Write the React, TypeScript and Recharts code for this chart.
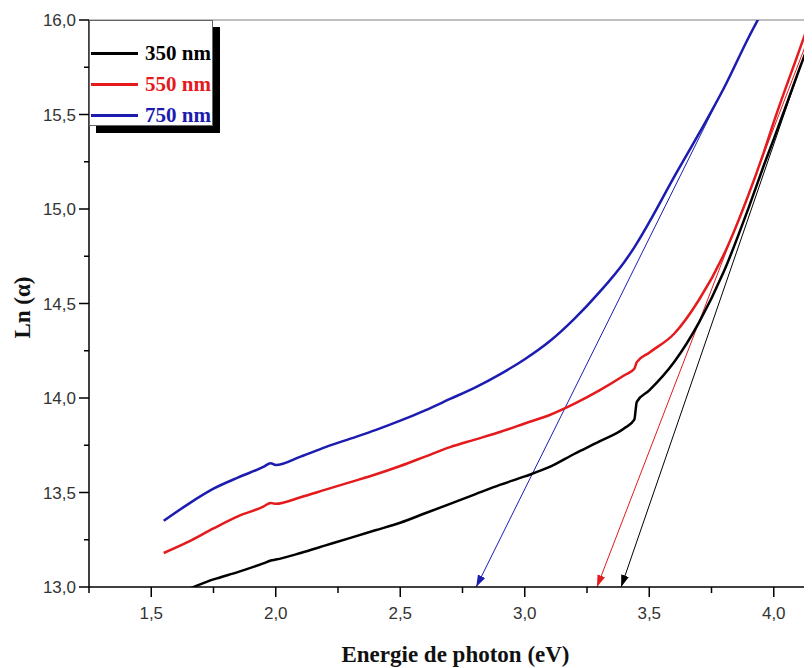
import React from 'react';
import { LineChart, Line, XAxis, YAxis, ReferenceLine, Label } from 'recharts';

// ---- data ----
const ENERGY = [1.55, 1.65, 1.75, 1.85, 1.95, 1.98, 2.0, 2.1, 2.2, 2.3, 2.4, 2.5, 2.6, 2.7, 2.8, 2.9, 3.0, 3.1, 3.2, 3.3, 3.4, 3.44, 3.45, 3.5, 3.6, 3.7, 3.8, 3.9, 3.96, 4.0, 4.1, 4.2];
const LN_350 = [12.94, 12.99, 13.04, 13.08, 13.125, 13.14, 13.145, 13.18, 13.22, 13.26, 13.3, 13.34, 13.39, 13.44, 13.49, 13.54, 13.585, 13.635, 13.705, 13.77, 13.84, 13.885, 13.98, 14.04, 14.19, 14.4, 14.67, 15.01, 15.23, 15.37, 15.73, 16.08];
const LN_550 = [13.18, 13.24, 13.31, 13.375, 13.425, 13.445, 13.44, 13.475, 13.515, 13.555, 13.595, 13.64, 13.69, 13.74, 13.78, 13.82, 13.865, 13.91, 13.97, 14.04, 14.12, 14.155, 14.19, 14.24, 14.34, 14.52, 14.76, 15.08, 15.3, 15.46, 15.83, 16.2];
const LN_750 = [13.35, 13.44, 13.52, 13.58, 13.635, 13.655, 13.645, 13.69, 13.74, 13.785, 13.83, 13.88, 13.935, 13.995, 14.055, 14.125, 14.205, 14.3, 14.42, 14.56, 14.72, 14.797, 14.818, 14.93, 15.17, 15.4, 15.64, 15.91, 16.06, null, null, null];

const SERIES_NAMES = ['350 nm', '550 nm', '750 nm'];
const SERIES_KEYS = ['s350', 's550', 's750'];
const SERIES_COLORS = ['#000000', '#e41a1c', '#1c1cb0'];

// tangent (extrapolation) lines: start at top, end (arrow) on the energy axis
const TANGENT_350 = [{ e: 4.172, v: 16.0 }, { e: 3.387, v: 13.0 }];
const TANGENT_550 = [{ e: 4.167, v: 16.0 }, { e: 3.29, v: 13.0 }];
const TANGENT_750 = [{ e: 3.935, v: 16.0 }, { e: 2.805, v: 13.0 }];
const TANGENTS = [TANGENT_350, TANGENT_550, TANGENT_750];

const X_TICKS = [1.25, 1.5, 1.75, 2.0, 2.25, 2.5, 2.75, 3.0, 3.25, 3.5, 3.75, 4.0, 4.25];
const Y_TICKS = [13.0, 13.25, 13.5, 13.75, 14.0, 14.25, 14.5, 14.75, 15.0, 15.25, 15.5, 15.75, 16.0];

const X_TITLE = 'Energie de photon (eV)';
const Y_TITLE = 'Ln (α)';

const data = ENERGY.map((e, i) => ({ e, s350: LN_350[i], s550: LN_550[i], s750: LN_750[i] }));

const isMajor = (v: number) => Math.abs(v * 2 - Math.round(v * 2)) < 1e-6;
const fmt = (v: number) => v.toFixed(1).replace('.', ',');

const TICK_FONT = { fontFamily: '"Liberation Sans", Arial, sans-serif', fontSize: 17, fill: '#333' };
const SERIF = '"Liberation Serif", "Times New Roman", serif';

const X_TICK_SIZE = 10;
const X_TICK_MARGIN = 10;
const Y_TICK_SIZE = 10;
const Y_TICK_MARGIN = 3;

const XTick = (props: any) => {
  const { x, y, payload } = props;
  const axisY = y - X_TICK_SIZE - X_TICK_MARGIN;
  const major = isMajor(payload.value);
  return (
    <g>
      <line x1={x} x2={x} y1={axisY} y2={axisY + (major ? 10 : 6)} stroke="#000" strokeWidth={1.5} />
      {major && (
        <text x={x} y={y} dy="0.71em" textAnchor="middle" {...TICK_FONT}>
          {fmt(payload.value)}
        </text>
      )}
    </g>
  );
};

const YTick = (props: any) => {
  const { x, y, payload } = props;
  const axisX = x + Y_TICK_SIZE + Y_TICK_MARGIN;
  const major = isMajor(payload.value);
  return (
    <g>
      <line x1={axisX - (major ? 10 : 5)} x2={axisX} y1={y} y2={y} stroke="#000" strokeWidth={1.5} />
      {major && (
        <text x={x} y={y} dy="0.36em" textAnchor="end" {...TICK_FONT}>
          {fmt(payload.value)}
        </text>
      )}
    </g>
  );
};

const LegendBox = () => (
  <div
    style={{
      position: 'absolute',
      left: 81,
      top: 12,
      width: 124,
      height: 106,
      boxSizing: 'border-box',
      border: '1px solid #666',
      background: '#fff',
      boxShadow: '7px 7px 0 #000',
      paddingTop: 17,
    }}
  >
    {SERIES_NAMES.map((name, i) => (
      <div key={name} style={{ display: 'flex', alignItems: 'center', height: 31 }}>
        <div style={{ width: 47, height: 2.5, background: SERIES_COLORS[i], marginLeft: 1 }} />
        <span
          style={{
            marginLeft: 7,
            fontFamily: SERIF,
            fontWeight: 'bold',
            fontSize: 21,
            color: SERIES_COLORS[i],
            lineHeight: '31px',
            whiteSpace: 'nowrap',
          }}
        >
          {name}
        </span>
      </div>
    ))}
  </div>
);

export default function App() {
  return (
    <div style={{ position: 'relative', width: 804, height: 660, overflow: 'hidden', background: '#fff' }}>
      <svg width={0} height={0} style={{ position: 'absolute' }}>
        <defs>
          {SERIES_COLORS.map((c, i) => (
            <marker
              key={c}
              id={`arrow-${i}`}
              markerUnits="userSpaceOnUse"
              markerWidth={12}
              markerHeight={8}
              refX={12}
              refY={4}
              orient="auto"
            >
              <path d="M0,0 L12,4 L0,8 z" fill={c} />
            </marker>
          ))}
        </defs>
      </svg>
      <LineChart width={838} height={660} data={data} margin={{ top: 12, right: 10, left: 0, bottom: 0 }}>
        <XAxis
          dataKey="e"
          type="number"
          domain={[1.25, 4.25]}
          ticks={X_TICKS}
          allowDataOverflow
          height={81}
          tickSize={X_TICK_SIZE}
          tickMargin={X_TICK_MARGIN}
          tickLine={false}
          tick={<XTick />}
          axisLine={{ stroke: '#000', strokeWidth: 1.5 }}
          interval={0}
        >
          <Label
            content={(p: any) => {
              const vb = p.viewBox;
              return (
                <text
                  x={vb.x + vb.width / 2 - 7}
                  y={vb.y + vb.height - 6}
                  textAnchor="middle"
                  fontFamily={SERIF}
                  fontWeight="bold"
                  fontSize={23}
                  fill="#111"
                >
                  {X_TITLE}
                </text>
              );
            }}
          />
        </XAxis>
        <YAxis
          type="number"
          domain={[13, 16]}
          ticks={Y_TICKS}
          allowDataOverflow
          width={81}
          tickSize={Y_TICK_SIZE}
          tickMargin={Y_TICK_MARGIN}
          tickLine={false}
          tick={<YTick />}
          axisLine={{ stroke: '#000', strokeWidth: 1.5 }}
          interval={0}
        >
          <Label
            content={(p: any) => {
              const vb = p.viewBox;
              const cx = 14;
              const cy = vb.y + vb.height / 2 + 4;
              return (
                <text
                  x={cx}
                  y={cy}
                  textAnchor="middle"
                  dominantBaseline="central"
                  transform={`rotate(-90 ${cx} ${cy})`}
                  fontFamily={SERIF}
                  fontWeight="bold"
                  fontSize={23}
                  fill="#111"
                >
                  {Y_TITLE}
                </text>
              );
            }}
          />
        </YAxis>
        <ReferenceLine y={16} stroke="#aaa" strokeWidth={1.5} />
        {TANGENTS.map((t, i) => (
          <Line
            key={`t${i}`}
            data={t}
            dataKey="v"
            type="linear"
            stroke={SERIES_COLORS[i]}
            strokeWidth={1}
            dot={false}
            activeDot={false}
            isAnimationActive={false}
            markerEnd={`url(#arrow-${i})`}
            legendType="none"
          />
        ))}
        {SERIES_KEYS.map((k, i) => (
          <Line
            key={k}
            dataKey={k}
            name={SERIES_NAMES[i]}
            type="monotone"
            stroke={SERIES_COLORS[i]}
            strokeWidth={2.5}
            dot={false}
            activeDot={false}
            isAnimationActive={false}
          />
        ))}
      </LineChart>
      <LegendBox />
    </div>
  );
}
